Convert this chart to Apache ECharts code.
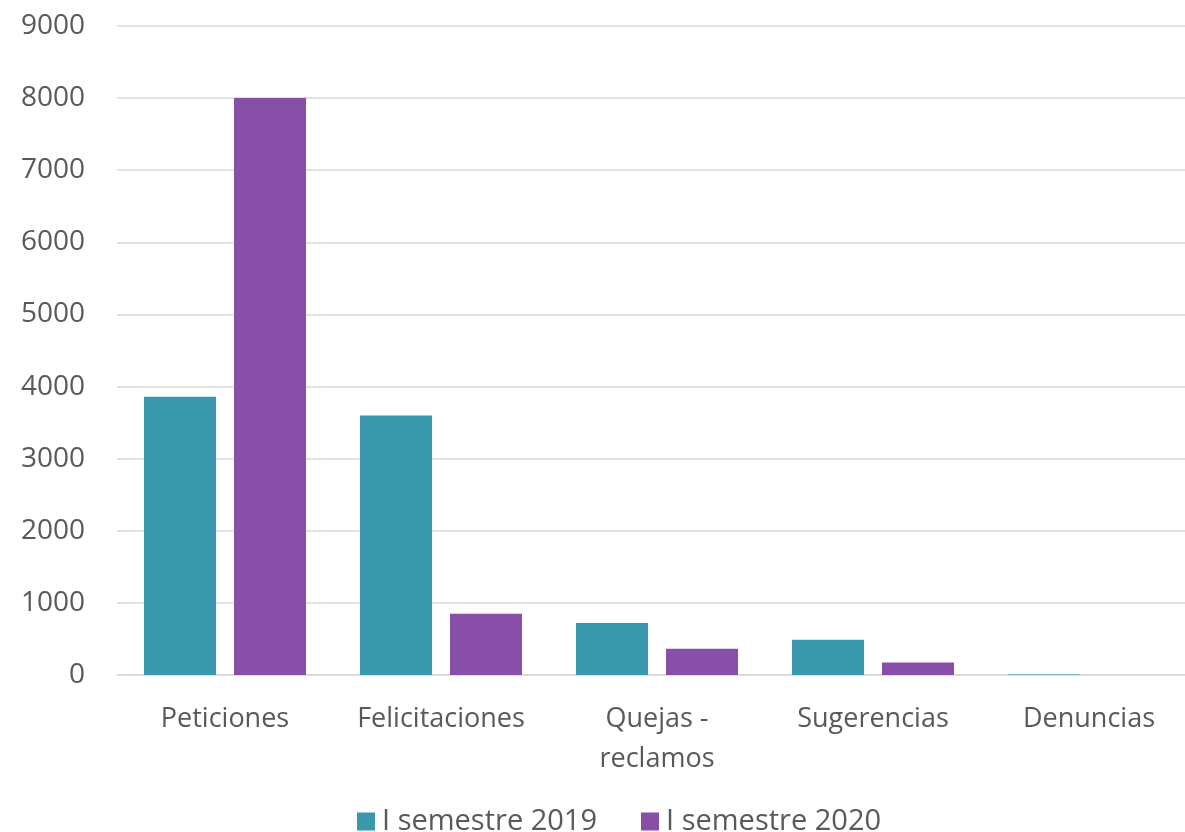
<!DOCTYPE html>
<html>
<head>
<meta charset="utf-8">
<script src="https://cdn.jsdelivr.net/npm/echarts@6/dist/echarts.min.js"></script>
<style>html,body{margin:0;padding:0;background:#fff;overflow:hidden;width:1185px;height:832px;}#c{width:1197px;height:832px;}</style>
</head>
<body>
<div id="c"></div>
<script>
const categories = ['Peticiones', 'Felicitaciones', 'Quejas -\nreclamos', 'Sugerencias', 'Denuncias'];
const seriesNames = ['I semestre 2019', 'I semestre 2020'];
const values2019 = [3860, 3600, 720, 490, 8];
const values2020 = [8000, 850, 365, 175, 0];
const yTicks = { min: 0, max: 9000, interval: 1000 };

const FONT = '"Open Sans", Lato, sans-serif';
const TXT = '#595959';
const chart = echarts.init(document.getElementById('c'), null, { renderer: 'canvas' });
chart.setOption({
  backgroundColor: '#ffffff',
  animation: false,
  textStyle: { fontFamily: FONT },
  grid: { left: 117, top: 26, right: 0, bottom: 157, containLabel: false },
  legend: {
    top: 802,
    left: 352,
    itemWidth: 18, itemHeight: 18, itemGap: 44,
    icon: 'rect',
    textStyle: { color: TXT, fontSize: 29, fontFamily: FONT, padding: [0, 0, 0, 2] },
    data: seriesNames
  },
  xAxis: {
    type: 'category',
    data: categories,
    axisLine: { show: true, lineStyle: { color: '#d9d9d9', width: 1.5 } },
    axisTick: { show: false },
    axisLabel: { color: TXT, fontSize: 27, fontFamily: FONT, margin: 24, lineHeight: 40, interval: 0 }
  },
  yAxis: {
    type: 'value',
    min: yTicks.min, max: yTicks.max, interval: yTicks.interval,
    axisLine: { show: false },
    axisTick: { show: false },
    splitLine: { lineStyle: { color: '#d9d9d9', width: 1.5 } },
    axisLabel: { color: TXT, fontSize: 28, fontFamily: FONT, margin: 32, formatter: function (v) { return String(v); } }
  },
  series: [
    { name: seriesNames[0], type: 'bar', data: values2019, barGap: '25%', barCategoryGap: '25%', itemStyle: { color: '#3A98AC' } },
    { name: seriesNames[1], type: 'bar', data: values2020, barGap: '25%', barCategoryGap: '25%', itemStyle: { color: '#874FA7' } }
  ]
});
</script>
</body>
</html>
